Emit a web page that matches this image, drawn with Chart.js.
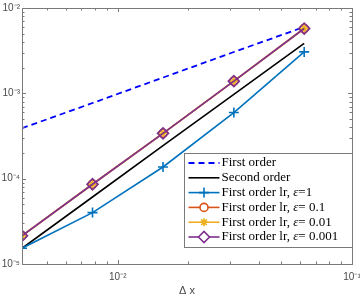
<!DOCTYPE html>
<html>
<head>
<meta charset="utf-8">
<script src="https://cdn.jsdelivr.net/npm/chart.js@4.4.0/dist/chart.umd.min.js"></script>
<style>
  html, body { margin: 0; padding: 0; background: #fff; }
  #wrap { width: 360px; height: 298px; }
</style>
</head>
<body>
<div id="wrap"><canvas id="chart"></canvas></div>
<script>
// step sizes (x) and errors (y)
const dx = [0.0039, 0.0078, 0.0156, 0.0313, 0.0625];
const firstOrder = [3.9e-4, 7.7e-4, 1.53e-3, 3.05e-3, 6.0e-3];
const secondOrder = [1.53e-5, 6.1e-5, 2.44e-4, 9.7e-4, 3.85e-3];
const lrEps1 = [1.53e-5, 4.0e-5, 1.37e-4, 5.96e-4, 3.06e-3];
const lrEps01 = [2.15e-5, 8.6e-5, 3.4e-4, 1.39e-3, 5.75e-3];
const lrEps001 = [2.14e-5, 8.6e-5, 3.4e-4, 1.39e-3, 5.75e-3];
const lrEps0001 = [2.14e-5, 8.6e-5, 3.4e-4, 1.39e-3, 5.75e-3];

const seriesNames = [
  "First order",
  "Second order",
  "First order lr, ε=1",
  "First order lr, ε= 0.1",
  "First order lr, ε= 0.01",
  "First order lr, ε= 0.001",
];

const xRange = [0.0039, 0.1];
const yRange = [1e-5, 1e-2];
const xTitle = "Δ x";

const colors = {
  blue: "#0000ff",
  black: "#000000",
  c1: "#0072bd",
  c2: "#d95319",
  c3: "#edb120",
  c4: "#7e2f8e",
  axis: "#7a7a7a",
  text: "#4a4a4a",
};

function pts(ys) {
  return dx.map(function (x, i) { return { x: x, y: ys[i] }; });
}

const supMap = { "-": "⁻", "0": "⁰", "1": "¹", "2": "²", "3": "³", "4": "⁴", "5": "⁵", "6": "⁶", "7": "⁷", "8": "⁸", "9": "⁹" };
function powLabel(value) {
  const e = Math.log10(value);
  if (Math.abs(e - Math.round(e)) > 1e-6) return "";
  return "10" + String(Math.round(e)).split("").map(function (c) { return supMap[c]; }).join("");
}

function isNice(value) {
  const e = Math.floor(Math.log10(value) + 1e-9);
  const m = value / Math.pow(10, e);
  return Math.abs(m - Math.round(m)) < 1e-6;
}

// inward tick marks on all four sides + box
const boxTicks = {
  id: "boxTicks",
  afterDraw(chart) {
    const ctx = chart.ctx;
    const a = chart.chartArea;
    const xs = chart.scales.x;
    const ys = chart.scales.y;
    ctx.save();
    ctx.strokeStyle = colors.axis;
    ctx.lineWidth = 1;
    ctx.beginPath();
    xs.ticks.forEach(function (t) {
      if (!isNice(t.value)) return;
      const px = Math.round(xs.getPixelForValue(t.value)) + 0.5;
      const len = powLabel(t.value) ? 4 : 2.5;
      ctx.moveTo(px, a.bottom); ctx.lineTo(px, a.bottom - len);
      ctx.moveTo(px, a.top); ctx.lineTo(px, a.top + len);
    });
    ys.ticks.forEach(function (t) {
      if (!isNice(t.value)) return;
      const py = Math.round(ys.getPixelForValue(t.value)) + 0.5;
      const len = powLabel(t.value) ? 4 : 2.5;
      ctx.moveTo(a.left, py); ctx.lineTo(a.left + len, py);
      ctx.moveTo(a.right, py); ctx.lineTo(a.right - len, py);
    });
    ctx.stroke();
    ctx.strokeRect(Math.round(a.left) + 0.5, Math.round(a.top) + 0.5,
      Math.round(a.right - a.left), Math.round(a.bottom - a.top));
    ctx.restore();
  },
};

// legend box inside the plot, lower right
const insideLegend = {
  id: "insideLegend",
  afterDraw(chart) {
    const ctx = chart.ctx;
    const a = chart.chartArea;
    const rowH = 14.8;
    const w = 168, h = 94;
    const x0 = Math.round(a.right - w) + 0.5;
    const y0 = Math.round(a.bottom - h - 17) + 0.5;
    ctx.save();
    ctx.fillStyle = "#fff";
    ctx.fillRect(x0, y0, w, h);
    ctx.strokeStyle = colors.axis;
    ctx.lineWidth = 1;
    ctx.strokeRect(x0, y0, w, h);
    ctx.textBaseline = "middle";
    chart.data.datasets.forEach(function (ds, i) {
      const cy = y0 + 9.5 + i * rowH;
      ctx.strokeStyle = ds.borderColor;
      ctx.lineWidth = ds.borderWidth;
      ctx.setLineDash(ds.borderDash || []);
      ctx.beginPath();
      ctx.moveTo(x0 + 4, cy);
      ctx.lineTo(x0 + 35, cy);
      ctx.stroke();
      ctx.setLineDash([]);
      if (ds.pointStyle && ds.pointRadius > 0) {
        ctx.lineWidth = ds.pointBorderWidth;
        ctx.strokeStyle = ds.pointBorderColor;
        ctx.fillStyle = "#fff";
        Chart.helpers.drawPoint(ctx, { pointStyle: ds.pointStyle, radius: ds.pointRadius, borderWidth: ds.pointBorderWidth, rotation: 0 }, x0 + 19.5, cy);
      }
      ctx.fillStyle = "#000";
      const parts = ds.label.split("ε");
      let tx = x0 + 37;
      ctx.font = "13px 'Liberation Serif'";
      ctx.fillText(parts[0], tx, cy);
      tx += ctx.measureText(parts[0]).width;
      if (parts.length > 1) {
        ctx.font = "italic 13px 'Liberation Serif'";
        ctx.fillText("ε", tx, cy);
        tx += ctx.measureText("ε").width;
        ctx.font = "13px 'Liberation Serif'";
        ctx.fillText(parts[1], tx, cy);
      }
    });
    ctx.restore();
  },
};

function lineSet(label, ys, color, extra) {
  return Object.assign({
    label: label,
    data: pts(ys),
    borderColor: color,
    backgroundColor: color,
    borderWidth: 1.6,
    pointRadius: 0,
    pointBorderColor: color,
    pointBackgroundColor: "rgba(0,0,0,0)",
    pointBorderWidth: 1.6,
    tension: 0,
  }, extra || {});
}

// later series drawn on top, like the original plot
const datasets = [
  lineSet(seriesNames[0], firstOrder, colors.blue, { borderDash: [6, 4], borderWidth: 1.8, order: 5 }),
  lineSet(seriesNames[1], secondOrder, colors.black, { order: 4 }),
  lineSet(seriesNames[2], lrEps1, colors.c1, { pointStyle: "cross", pointRadius: 5, order: 3 }),
  lineSet(seriesNames[3], lrEps01, colors.c2, { pointStyle: "circle", pointRadius: 4, order: 2 }),
  lineSet(seriesNames[4], lrEps001, colors.c3, { pointStyle: "star", pointRadius: 4, order: 1 }),
  lineSet(seriesNames[5], lrEps0001, colors.c4, { pointStyle: "rectRot", pointRadius: 5.5, order: 0 }),
];

new Chart(document.getElementById("chart"), {
  type: "line",
  data: { datasets: datasets },
  options: {
    responsive: true,
    maintainAspectRatio: false,
    animation: false,
    layout: { padding: { top: 5, right: 0, left: 0, bottom: 0 } },
    plugins: { legend: { display: false }, tooltip: { enabled: false } },
    scales: {
      x: {
        type: "logarithmic",
        min: xRange[0],
        max: xRange[1],
        grid: { display: false, drawTicks: false },
        border: { display: false },
        ticks: {
          autoSkip: false,
          maxRotation: 0,
          padding: 7,
          color: colors.text,
          font: { family: "'Liberation Sans'", size: 10 },
          callback: function (v) { return powLabel(v); },
        },
        title: {
          display: true,
          text: xTitle,
          color: colors.text,
          font: { family: "'Liberation Sans'", size: 11 },
          padding: { top: 0, bottom: 0 },
        },
        afterFit: function (s) { s.height = 34; s.paddingRight = 8; },
      },
      y: {
        type: "logarithmic",
        min: yRange[0],
        max: yRange[1],
        grid: { display: false, drawTicks: false },
        border: { display: false },
        ticks: {
          autoSkip: false,
          padding: 2,
          color: colors.text,
          font: { family: "'Liberation Sans'", size: 10 },
          callback: function (v) { return powLabel(v); },
        },
        afterFit: function (s) { s.width = 22; },
      },
    },
  },
  plugins: [boxTicks, insideLegend],
});
</script>
</body>
</html>
